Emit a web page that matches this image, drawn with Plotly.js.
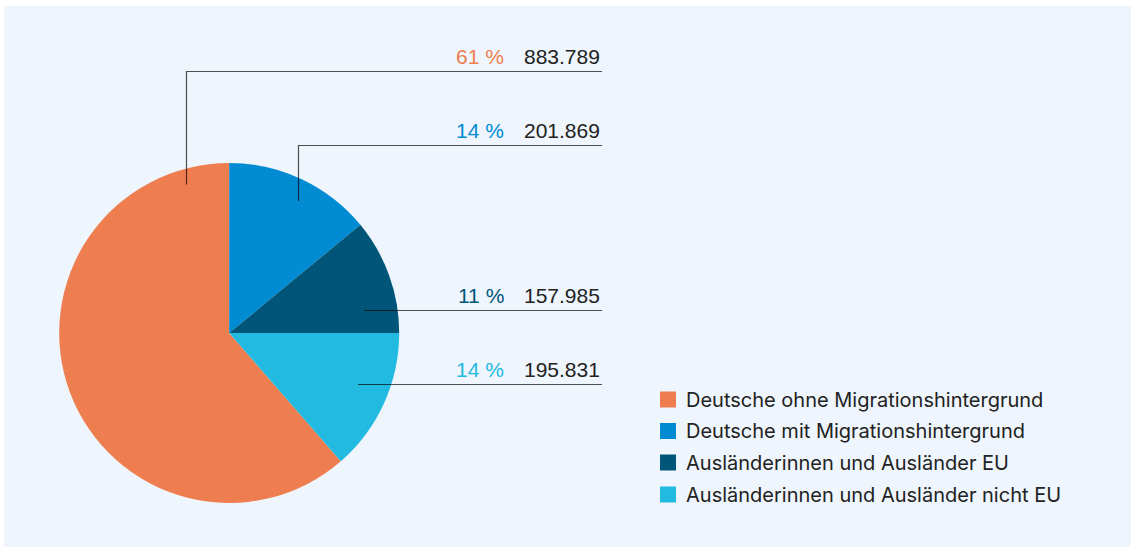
<!DOCTYPE html>
<html><head><meta charset="utf-8">
<script src="https://cdn.plot.ly/plotly-3.0.1.min.js"></script>
<style>html,body{margin:0;padding:0;background:#fff}#chart{width:1131px;height:547px}</style>
</head><body><div id="chart"></div>
<script>
// ---- data ----
const categories = ['Deutsche ohne Migrationshintergrund', 'Deutsche mit Migrationshintergrund', 'Ausländerinnen und Ausländer EU', 'Ausländerinnen und Ausländer nicht EU'];
const values = [883789, 201869, 157985, 195831];
const colors = ['#EE7D4F', '#008BD2', '#005578', '#23BAE1'];

// ---- helpers ----
const W = 1131, H = 547;
const px = x => x / W, py = y => 1 - y / H;
const total = values.reduce((a, b) => a + b, 0);
const fmt = v => String(v).replace(/\B(?=(\d{3})+(?!\d))/g, '.');
const pct = v => Math.round(v / total * 100) + ' %';
const FONT = 'Liberation Sans, Arial, sans-serif';
const LEGEND_FONT = 'Inter, Liberation Sans, Arial, sans-serif';

// leader line geometry (layout only)
const leaders = [
  {pts: [[186.5, 184.5], [186.5, 71.5], [602, 71.5]], ty: 56},
  {pts: [[298.5, 201], [298.5, 145.5], [602, 145.5]], ty: 130.5},
  {pts: [[364, 310.5], [602, 310.5]], ty: 295.5},
  {pts: [[358, 384.5], [602, 384.5]], ty: 369}
];
const legendRows = [399.5, 431, 462.5, 494.5];

const shapes = [{
  type: 'rect', xref: 'paper', yref: 'paper', layer: 'below',
  x0: px(4), x1: 1, y0: 0, y1: py(6),
  fillcolor: '#EEF5FC', line: {width: 0}
}];
const annotations = [];

leaders.forEach((l, i) => {
  const path = l.pts.map((p, k) => (k ? 'L' : 'M') + px(p[0]) + ',' + py(p[1])).join(' ');
  shapes.push({type: 'path', xref: 'paper', yref: 'paper', path: path,
    line: {color: 'rgba(0,0,0,0.68)', width: 1.2}});
  annotations.push({xref: 'paper', yref: 'paper', x: px(602), y: py(l.ty),
    xanchor: 'right', yanchor: 'middle', showarrow: false, text: fmt(values[i]),
    font: {family: FONT, size: 21, color: '#222'}});
  annotations.push({xref: 'paper', yref: 'paper', x: px(506), y: py(l.ty),
    xanchor: 'right', yanchor: 'middle', showarrow: false, text: pct(values[i]),
    font: {family: FONT, size: 21, color: colors[i]}});
});

categories.forEach((c, i) => {
  const yc = legendRows[i];
  shapes.push({type: 'rect', xref: 'paper', yref: 'paper',
    x0: px(660), x1: px(676), y0: py(yc + 8), y1: py(yc - 8),
    fillcolor: colors[i], line: {width: 0}});
  annotations.push({xref: 'paper', yref: 'paper', x: px(684), y: py(yc),
    xanchor: 'left', yanchor: 'middle', showarrow: false, text: c,
    font: {family: LEGEND_FONT, size: 20, color: '#222'}});
});

const trace = {
  type: 'pie',
  labels: categories,
  values: values,
  marker: {colors: colors, line: {width: 0}},
  sort: false,
  direction: 'clockwise',
  rotation: -(values[0] / total) * 360,
  textinfo: 'none',
  hoverinfo: 'none',
  showlegend: false,
  domain: {x: [px(59.2), px(399.2)], y: [py(503), py(163)]}
};

Plotly.newPlot('chart', [trace], {
  width: W, height: H,
  margin: {l: 0, r: 0, t: 0, b: 0},
  paper_bgcolor: '#ffffff',
  showlegend: false,
  hovermode: false,
  shapes: shapes,
  annotations: annotations
}, {displayModeBar: false, staticPlot: true});
</script>
</body></html>
